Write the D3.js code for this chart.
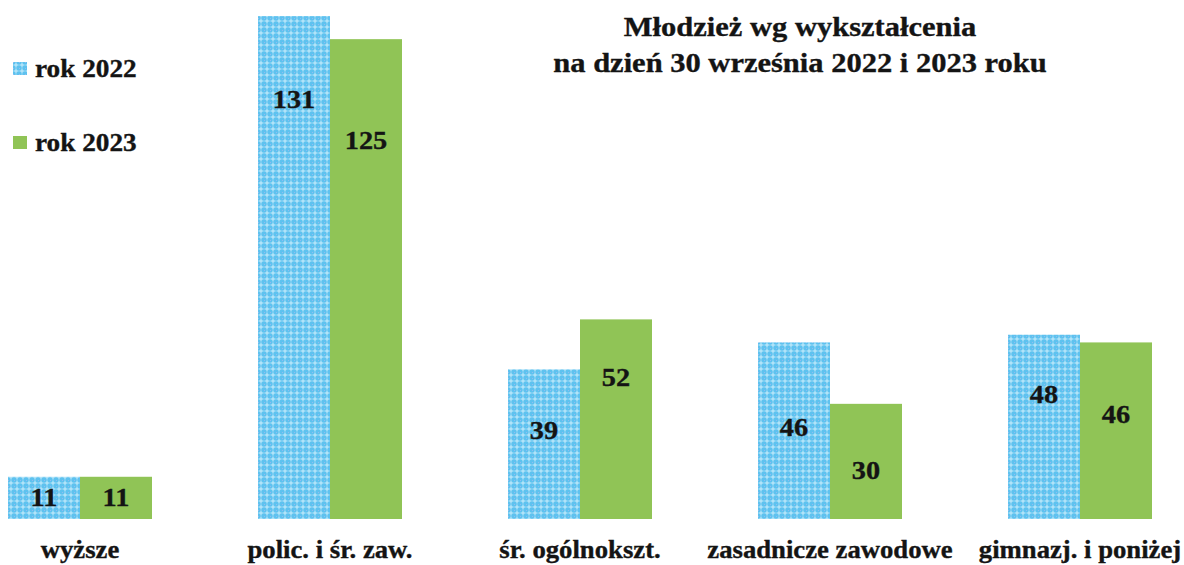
<!DOCTYPE html>
<html><head><meta charset="utf-8">
<script src="https://cdn.jsdelivr.net/npm/d3@7"></script>
<style>
html,body{margin:0;padding:0;background:#fff;}
svg{display:block;}
</style></head>
<body>
<svg id="chart" width="1184" height="565" font-family="Liberation Serif" font-weight="bold"></svg>
<script>
const categories = ["wyższe", "polic. i śr. zaw.", "śr. ogólnokszt.", "zasadnicze zawodowe", "gimnazj. i poniżej"];
const series = ["rok 2022", "rok 2023"];
const values2022 = [11, 131, 39, 46, 48];
const values2023 = [11, 125, 52, 30, 46];
// where each value label sits along its bar (in data units, as placed in the original)
const labelAt2022 = [5.7, 109.4, 23.2, 24, 32.6];
const labelAt2023 = [5.7, 98.7, 37, 12.8, 27.4];
const titleLines = ["Młodzież wg wykształcenia", "na dzień 30 września 2022 i 2023 roku"];

const svg = d3.select("#chart");
const SX = 1.09; // slight horizontal stretch of the original typography
const FONT = "Liberation Serif";
const INK = "#141414";

const defs = svg.append("defs");
const pat = defs.append("pattern").attr("id","dots").attr("patternUnits","userSpaceOnUse")
  .attr("width",6).attr("height",6);
pat.append("rect").attr("width",6).attr("height",6).attr("fill","#5ec2ef");
pat.append("rect").attr("x",0.5).attr("y",2.5).attr("width",5).attr("height",1).attr("fill","#cdeefc");
pat.append("rect").attr("x",2.5).attr("y",0.5).attr("width",1).attr("height",5).attr("fill","#cdeefc");
pat.append("rect").attr("x",0).attr("y",0).attr("width",1).attr("height",1).attr("fill","#93bbef");

const fills = ["url(#dots)", "#90c456"];

const x = d3.scaleBand().domain(categories).range([-45, 1205]).paddingInner(0.424).paddingOuter(0.212);
const xs = d3.scaleBand().domain(series).range([0, x.bandwidth()]);
const y = d3.scaleLinear().domain([0, 135.2]).range([519, 0]);

const rows = categories.map((c,i)=>({cat:c, vals:[
  {s:series[0], v:values2022[i], l:labelAt2022[i]},
  {s:series[1], v:values2023[i], l:labelAt2023[i]}]}));

const g = svg.append("g").selectAll("g").data(rows).join("g")
  .attr("transform", d=>`translate(${x(d.cat)},0)`);

g.selectAll("rect").data(d=>d.vals).join("rect")
  .attr("x", d=>xs(d.s)).attr("width", xs.bandwidth())
  .attr("y", d=>y(d.v)).attr("height", d=>y(0)-y(d.v))
  .attr("fill", (d,i)=>fills[i]);

function styleText(sel, size){
  return sel.attr("font-family", FONT).attr("font-weight","bold").attr("font-size", size)
    .attr("fill", INK).attr("stroke", INK).attr("stroke-width", 0.35);
}

styleText(g.selectAll("text.val").data(d=>d.vals).join("text").attr("class","val"), 26)
  .attr("transform", d=>`translate(${xs(d.s)+xs.bandwidth()/2},${y(d.l)+9}) scale(${SX},1)`)
  .attr("text-anchor","middle").text(d=>d.v);

// category labels
styleText(svg.append("g").selectAll("text").data(categories).join("text"), 24.5)
  .attr("transform", d=>`translate(${x(d)+x.bandwidth()/2},558) scale(${SX},1)`)
  .attr("text-anchor","middle").text(d=>d);

// title
styleText(svg.append("g").selectAll("text").data(titleLines).join("text"), 28)
  .attr("transform", (d,i)=>`translate(800,${36+i*36}) scale(${SX},1)`)
  .attr("text-anchor","middle").text(d=>d);

// legend
const leg = svg.append("g").selectAll("g").data(series).join("g")
  .attr("transform",(d,i)=>`translate(13,${62+i*74})`);
leg.append("rect").attr("width",14).attr("height",13).attr("fill",(d,i)=>fills[i]);
styleText(leg.append("text"), 25).attr("transform",`translate(22,15) scale(${SX},1)`).text(d=>d);
</script>
</body></html>
